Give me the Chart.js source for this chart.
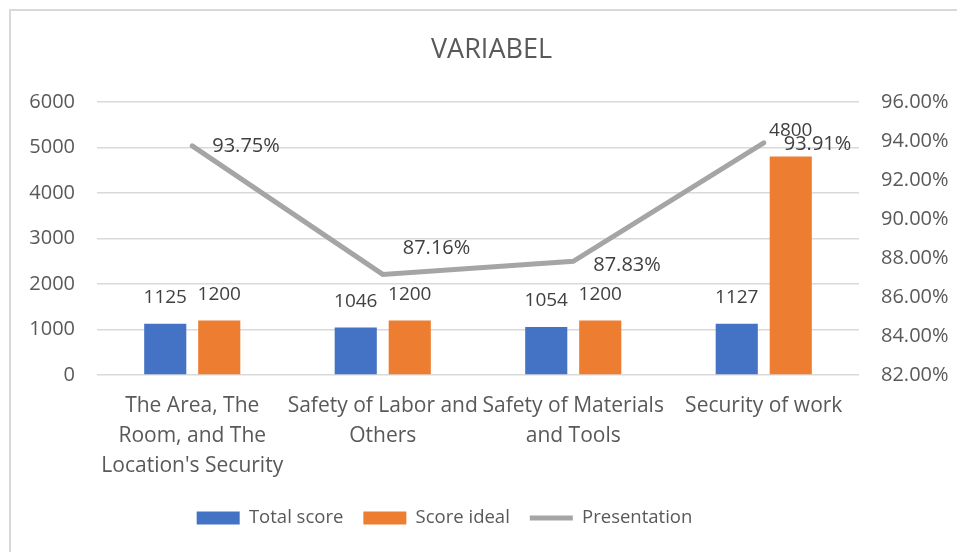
<!DOCTYPE html>
<html>
<head>
<meta charset="utf-8">
<script src="https://cdn.jsdelivr.net/npm/chart.js@4/dist/chart.umd.min.js"></script>
<style>
  body { margin: 0; background: #fff; }
  #frame { position: absolute; left: 9px; top: 9px; width: 2000px; height: 2000px; border-left: 2px solid #d9d9d9; border-top: 2px solid #d9d9d9; }
  #wrap { position: absolute; left: 0; top: 0; width: 957px; height: 552px; }
</style>
</head>
<body>
<div id="frame"></div>
<div id="wrap"><canvas id="myChart"></canvas></div>
<script>
const categories = [
  ["The Area, The", "Room, and The", "Location's Security"],
  ["Safety of Labor and", "Others"],
  ["Safety of Materials", "and Tools"],
  ["Security of work"],
];
const totalScore = [1125, 1046, 1054, 1127];
const scoreIdeal = [1200, 1200, 1200, 4800];
const presentation = [0.9375, 0.8716, 0.8783, 0.9391];
const leftTicks = [0, 1000, 2000, 3000, 4000, 5000, 6000];
const rightTicks = [0.82, 0.84, 0.86, 0.88, 0.90, 0.92, 0.94, 0.96];

const textColor = "#595959";
const font = "'Open Sans', sans-serif";

// nudges for the percentage labels (Excel had one moved up)
const lineLabelDy = [0, -26, 4, 2];

const dataLabels = {
  id: "dataLabels",
  afterDatasetsDraw(chart) {
    const ctx = chart.ctx;
    ctx.save();
    ctx.fillStyle = "#404040";
    ctx.textBaseline = "middle";
    chart.data.datasets.forEach((ds, di) => {
      const meta = chart.getDatasetMeta(di);
      meta.data.forEach((el, i) => {
        if (ds.type === "line") {
          ctx.font = "20px " + font;
          ctx.textAlign = "left";
          ctx.fillText((ds.data[i] * 100).toFixed(2) + "%", el.x + 20, el.y + lineLabelDy[i]);
        } else {
          ctx.font = "19px " + font;
          ctx.textAlign = "center";
          ctx.fillText(ds.data[i], el.x, el.y - 26);
        }
      });
    });
    ctx.restore();
  },
};

// Excel legend sits a bit left of centre, title a bit right
const boxShift = {
  id: "boxShift",
  afterLayout(chart) {
    chart.legend.left -= 39;
    chart.legend.right -= 39;
    chart.titleBlock.left += 8;
    chart.titleBlock.right += 8;
  },
};

const ctx = document.getElementById("myChart").getContext("2d");
new Chart(ctx, {
  data: {
    labels: categories,
    datasets: [
      {
        type: "bar",
        label: "Total score",
        data: totalScore,
        backgroundColor: "#4472C4",
        yAxisID: "y",
        order: 1,
        categoryPercentage: 0.567,
        barPercentage: 0.78,
      },
      {
        type: "bar",
        label: "Score ideal",
        data: scoreIdeal,
        backgroundColor: "#ED7D31",
        yAxisID: "y",
        order: 1,
        categoryPercentage: 0.567,
        barPercentage: 0.78,
      },
      {
        type: "line",
        label: "Presentation",
        data: presentation,
        borderColor: "#A5A5A5",
        backgroundColor: "#A5A5A5",
        borderWidth: 5,
        borderCapStyle: "round",
        pointRadius: 0,
        tension: 0,
        yAxisID: "y1",
        order: 0,
      },
    ],
  },
  options: {
    responsive: true,
    maintainAspectRatio: false,
    animation: false,
    layout: { padding: { left: 10, right: 0, top: 10, bottom: 14.75 } },
    plugins: {
      title: {
        display: true,
        text: "VARIABEL",
        color: textColor,
        font: { family: font, size: 27, weight: "normal" },
        padding: { top: 24, bottom: 35.6 },
      },
      legend: {
        position: "bottom",
        labels: {
          color: textColor,
          font: { family: font, size: 18.5 },
          usePointStyle: true,
          pointStyleWidth: 43,
          boxHeight: 13,
          padding: 20,
          sort: (a, b) => a.datasetIndex - b.datasetIndex,
          generateLabels(chart) {
            const items = Chart.defaults.plugins.legend.labels.generateLabels(chart);
            items.forEach((it) => {
              const ds = chart.data.datasets[it.datasetIndex];
              it.pointStyle = ds.type === "line" ? "line" : "rect";
              if (ds.type !== "line") it.lineWidth = 0;
            });
            return items;
          },
        },
      },
      tooltip: { enabled: false },
    },
    scales: {
      x: {
        afterFit: (s) => { s.height = 113.75; },
        grid: { display: false, drawTicks: false },
        border: { display: false },
        ticks: {
          color: textColor,
          font: { family: font, size: 21, lineHeight: 1.43 },
          padding: 16,
          maxRotation: 0,
          autoSkip: false,
        },
      },
      y: {
        position: "left",
        min: 0,
        max: 6000,
        afterFit: (s) => { s.width = 87; },
        afterBuildTicks: (s) => { s.ticks = leftTicks.map((v) => ({ value: v })); },
        grid: { color: "#D9D9D9", lineWidth: 1.5, drawTicks: false },
        border: { display: false },
        ticks: {
          color: textColor,
          font: { family: font, size: 20 },
          padding: 22,
          callback: (v) => String(v),
        },
      },
      y1: {
        position: "right",
        min: 0.82,
        max: 0.96,
        afterFit: (s) => { s.width = 98; },
        afterBuildTicks: (s) => { s.ticks = rightTicks.map((v) => ({ value: v })); },
        grid: { display: false, drawTicks: false },
        border: { display: false },
        ticks: {
          color: textColor,
          font: { family: font, size: 20 },
          padding: 22,
          callback: (v) => (v * 100).toFixed(2) + "%",
        },
      },
    },
  },
  plugins: [dataLabels, boxShift],
});
</script>
</body>
</html>
